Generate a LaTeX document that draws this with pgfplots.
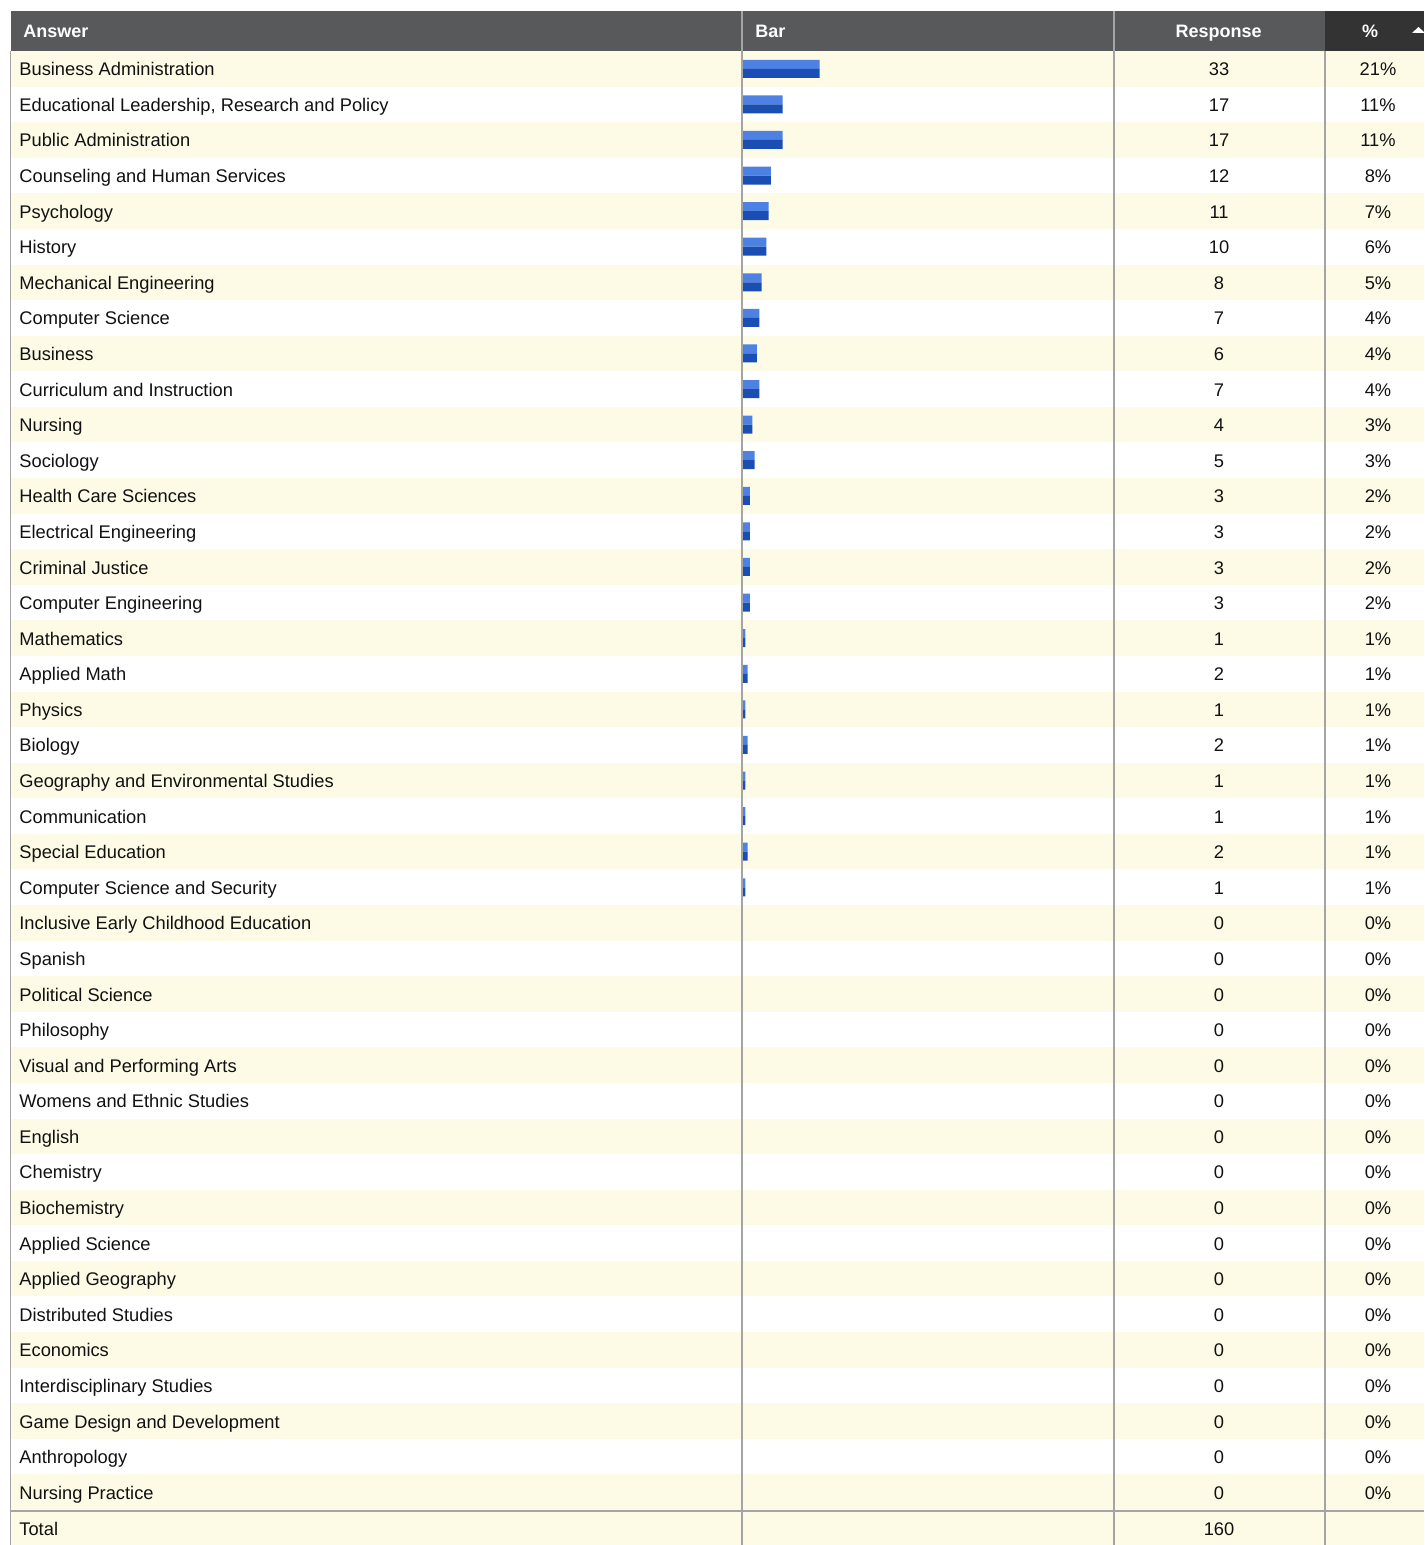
\documentclass[border=0pt]{standalone}
\usepackage{pgfplots}
\pgfplotsset{compat=1.18}
\usepackage{pgfplotstable}
\usepackage{fontspec}
\setmainfont{Liberation Sans}

\definecolor{hdr}{HTML}{58595B}
\definecolor{hdrdark}{HTML}{333333}
\definecolor{cream}{HTML}{FDFBE6}
\definecolor{gridc}{HTML}{A4A4A4}
\definecolor{barlight}{HTML}{4D82E4}
\definecolor{bardark}{HTML}{1A4EB2}
\definecolor{txt}{HTML}{111111}

\pgfplotstableread[col sep=semicolon]{
idx;name;count;pct
1;Business Administration;33;21
2;Educational Leadership, Research and Policy;17;11
3;Public Administration;17;11
4;Counseling and Human Services;12;8
5;Psychology;11;7
6;History;10;6
7;Mechanical Engineering;8;5
8;Computer Science;7;4
9;Business;6;4
10;Curriculum and Instruction;7;4
11;Nursing;4;3
12;Sociology;5;3
13;Health Care Sciences;3;2
14;Electrical Engineering;3;2
15;Criminal Justice;3;2
16;Computer Engineering;3;2
17;Mathematics;1;1
18;Applied Math;2;1
19;Physics;1;1
20;Biology;2;1
21;Geography and Environmental Studies;1;1
22;Communication;1;1
23;Special Education;2;1
24;Computer Science and Security;1;1
25;Inclusive Early Childhood Education;0;0
26;Spanish;0;0
27;Political Science;0;0
28;Philosophy;0;0
29;Visual and Performing Arts;0;0
30;Womens and Ethnic Studies;0;0
31;English;0;0
32;Chemistry;0;0
33;Biochemistry;0;0
34;Applied Science;0;0
35;Applied Geography;0;0
36;Distributed Studies;0;0
37;Economics;0;0
38;Interdisciplinary Studies;0;0
39;Game Design and Development;0;0
40;Anthropology;0;0
41;Nursing Practice;0;0
}\datatable

\begin{document}
\begin{tikzpicture}[font=\fontsize{9.15pt}{11pt}\selectfont]
% ---- table frame (1 px = 0.5pt, y downward) ----
\begin{scope}[x=0.5pt,y=-0.5pt]
  \foreach \i in {1,3,...,41} {
    \fill[cream] (11,{51+35.585*(\i-1)}) rectangle (1424,{51+35.585*\i});
  }
  \fill[cream] (11,1511) rectangle (1424,1545);
  \fill[hdr] (11,11) rectangle (1325,51);
  \fill[hdrdark] (1325,11) rectangle (1424,51);
  \draw[gridc, line width=1pt] (742,11) -- (742,1545);
  \draw[gridc, line width=1pt] (1114,11) -- (1114,1545);
  \draw[gridc, line width=1pt] (1325,51) -- (1325,1545);
  \draw[gridc, line width=0.5pt] (10.5,51) -- (10.5,1545);
  \draw[gridc, line width=1pt] (10,1511) -- (1424,1511);
  \node[anchor=base west, inner sep=0pt, text=white, font=\fontsize{9pt}{11pt}\selectfont\bfseries] at (23,38) {Answer};
  \node[anchor=base west, inner sep=0pt, text=white, font=\fontsize{9pt}{11pt}\selectfont\bfseries] at (755,38) {Bar};
  \node[anchor=base, inner sep=0pt, text=white, font=\fontsize{9pt}{11pt}\selectfont\bfseries] at (1218.5,38) {Response};
  \node[anchor=base, inner sep=0pt, text=white, font=\fontsize{9pt}{11pt}\selectfont\bfseries] at (1370,38) {\%};
  \fill[white] (1412,33) -- (1418.5,27) -- (1425,33) -- cycle;
\end{scope}

% ---- text columns ----
\begin{axis}[at={(0,0)}, anchor=north west, scale only axis,
  width=712pt, height=772.5pt,
  xmin=0, xmax=1424, ymin=0, ymax=1545, y dir=reverse,
  hide axis, clip=false,
  every node near coord/.append style={inner sep=0pt, text=txt, font=\fontsize{9.15pt}{11pt}\selectfont}]
\addplot[only marks, mark=none, point meta=explicit symbolic, nodes near coords,
  every node near coord/.append style={anchor=base west}]
  table[x expr=19, y expr={51+35.585*(\thisrow{idx}-0.5)+7}, meta=name] {\datatable};
\addplot[only marks, mark=none, point meta=explicit symbolic, nodes near coords,
  every node near coord/.append style={anchor=base}]
  table[x expr=1219, y expr={51+35.585*(\thisrow{idx}-0.5)+7}, meta=count] {\datatable};
\addplot[only marks, mark=none, point meta=explicit symbolic, nodes near coords={\pgfplotspointmeta\%},
  every node near coord/.append style={anchor=base}]
  table[x expr=1378, y expr={51+35.585*(\thisrow{idx}-0.5)+7}, meta=pct] {\datatable};
\addplot[only marks, mark=none, point meta=explicit symbolic, nodes near coords,
  every node near coord/.append style={anchor=base west}]
  coordinates {(19,1535) [Total]};
\addplot[only marks, mark=none, point meta=explicit symbolic, nodes near coords,
  every node near coord/.append style={anchor=base}]
  coordinates {(1219,1535) [160]};
\end{axis}

% ---- bar column ----
\begin{axis}[at={(371.5pt,0)}, anchor=north west, scale only axis,
  width=186pt, height=772.5pt,
  xmin=0, xmax=160, ymin=0, ymax=1545, y dir=reverse,
  hide axis, clip=false, unbounded coords=discard]
\addplot[xbar, bar width=9, bar shift=0pt, fill=barlight, draw=none,
  x filter/.expression={x>0 ? x : nan}]
  table[x=count, y expr={51+35.585*(\thisrow{idx}-0.5)-4.5}] {\datatable};
\addplot[xbar, bar width=9, bar shift=0pt, fill=bardark, draw=none,
  x filter/.expression={x>0 ? x : nan}]
  table[x=count, y expr={51+35.585*(\thisrow{idx}-0.5)+4.5}] {\datatable};
\end{axis}

\pgfresetboundingbox
\path[use as bounding box] (0,0) rectangle (712pt,-772.5pt);
\end{tikzpicture}
\end{document}
